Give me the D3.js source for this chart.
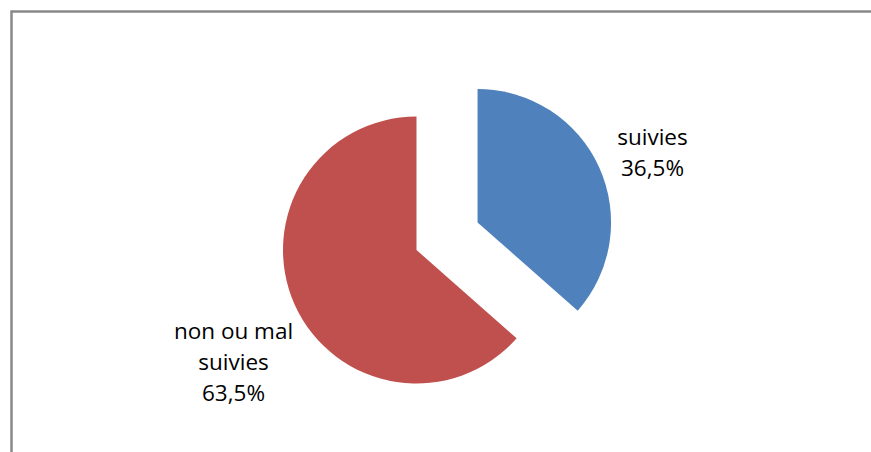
<!DOCTYPE html>
<html>
<head>
<meta charset="utf-8">
<script src="https://cdn.jsdelivr.net/npm/d3@7"></script>
<style>
  html, body { margin: 0; padding: 0; background: #fff; }
  svg { display: block; }
</style>
</head>
<body>
<svg id="chart" width="871" height="452"></svg>
<script>
// Share of cases, in percent
const categories = ["suivies", "non ou mal suivies"];
const values = [36.5, 63.5];
const valueLabels = ["36,5%", "63,5%"];
const colors = ["#4F81BD", "#C0504D"];

const svg = d3.select("#chart");

// Frame of the chart area
svg.append("rect")
  .attr("x", 11.5).attr("y", 11.5)
  .attr("width", 900).attr("height", 500)
  .attr("fill", "none")
  .attr("stroke", "#898989")
  .attr("stroke-width", 2.5);

const cx = 416.5, cy = 250, radius = 133.5, explode = 67;

const pie = d3.pie().sort(null).value(d => d)(values);
const arc = d3.arc().innerRadius(0).outerRadius(radius);

const g = svg.append("g").attr("transform", `translate(${cx},${cy})`);

// The first slice is pulled out of the pie along its middle angle
const offset = (d, i) => {
  if (i !== 0) return [0, 0];
  const a = (d.startAngle + d.endAngle) / 2;
  return [Math.sin(a) * explode, -Math.cos(a) * explode];
};

g.selectAll("path.slice")
  .data(pie)
  .join("path")
  .attr("class", "slice")
  .attr("d", arc)
  .attr("fill", (d, i) => colors[i])
  .attr("transform", (d, i) => `translate(${offset(d, i)})`);

// Labels: category name(s) followed by the percentage
const labelLines = [
  [categories[0], valueLabels[0]],
  ["non ou mal", "suivies", valueLabels[1]]
];
const labelPos = [[236, -105], [-183, 89]];

labelLines.forEach((lines, i) => {
  const t = g.append("text")
    .attr("text-anchor", "middle")
    .attr("font-family", "'Open Sans', 'Liberation Sans', sans-serif")
    .attr("font-size", 22.5)
    .attr("fill", "#000");
  lines.forEach((line, j) => {
    t.append("tspan")
      .attr("x", labelPos[i][0])
      .attr("y", labelPos[i][1] + j * 31)
      .text(line);
  });
});
</script>
</body>
</html>
